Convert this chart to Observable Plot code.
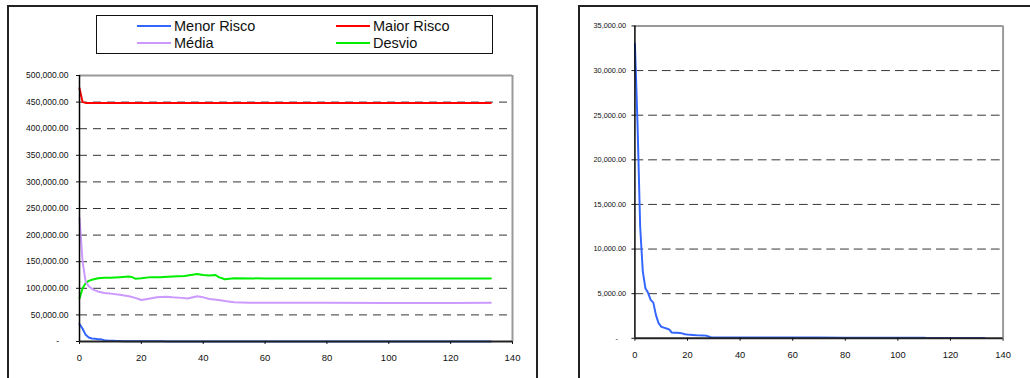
<!DOCTYPE html>
<html><head><meta charset="utf-8">
<script src="https://cdn.jsdelivr.net/npm/d3@7"></script>
<script src="https://cdn.jsdelivr.net/npm/@observablehq/plot@0.6"></script>
<style>
html,body{margin:0;padding:0;background:#fff;width:1030px;height:378px;overflow:hidden;font-family:"Liberation Sans",Arial,sans-serif;}
.panel{position:absolute;border:2px solid #222;box-sizing:border-box;background:#fff;}
#p1{left:7px;top:5px;width:531px;height:420px;}
#p2{left:578px;top:5px;width:500px;height:420px;}
.chart{position:absolute;}
#legend{position:absolute;left:96px;top:15px;width:397px;height:39px;border:1px solid #111;box-sizing:border-box;background:#fff;}
.sw{position:absolute;height:2px;}
.lt{position:absolute;font-size:14.5px;color:#111;line-height:1;white-space:nowrap;}
</style>
</head><body>
<div class="panel" id="p1"></div>
<div class="panel" id="p2"></div>
<div id="legend"></div>
<div class="chart" id="c1"></div>
<div class="chart" id="c2"></div>
<script>
// ---- data ----
const seriesNames = ["Menor Risco", "Maior Risco", "Média", "Desvio"];
const seriesColors = ["#3366ff", "#ff0000", "#cc99ff", "#00ee00"];

const menorIter = [0,1,2,3,4,5,6,7,8,9,10,11,12,13,14,15,16,17,18,19,20,22,24,26,27,28,29,30,40,50,60,70,80,90,100,110,111,120,133];
const menorRisco = [33000,24000,12500,7500,5600,5100,4300,4000,2600,1700,1300,1200,1100,1000,650,620,620,600,550,450,420,380,330,320,300,200,100,80,80,80,80,80,70,70,70,70,50,50,50];

const maiorIter = [0,1,2,5,10,20,40,60,80,100,120,133];
const maiorRisco = [476000,450000,448500,448500,448500,448500,448500,448500,448500,448500,448500,448500];

const mediaIter = [0,1,2,3,4,5,6,8,10,13,16,18,20,22,25,28,30,33,35,38,40,42,45,47,50,55,60,80,100,120,133];
const media = [232000,150000,112000,104000,99000,96000,94000,91000,90000,88000,85000,82000,78000,80000,83000,84000,83000,82000,81000,85000,83000,80000,78000,76000,74000,73000,73000,73000,72500,72500,73000];

const desvioIter = [0,1,2,3,4,6,8,10,13,16,17,18,20,23,26,30,34,38,40,42,44,45,47,50,60,80,100,120,133];
const desvio = [81000,100000,110000,114000,116000,119000,120000,120000,121000,122000,121000,118000,119000,121000,121000,122000,123000,127000,125000,124000,125000,121000,117000,119000,118500,118500,118500,118500,118500];

const xTicks = [0,20,40,60,80,100,120,140];
const yTicksLeft = [0,50000,100000,150000,200000,250000,300000,350000,400000,450000,500000];
const yTicksRight = [0,5000,10000,15000,20000,25000,30000,35000];

// ---- helpers ----
const toRows = (xs, vs) => xs.map((x, k) => ({i: x, v: vs[k]}));
const fmt = d => d === 0 ? "-\u00a0\u00a0\u00a0\u00a0" : d3.format(",.2f")(d);
const FONT = '"Liberation Sans", Arial, sans-serif';

function chart({width, height, mL, mR, mT, mB, yMax, yTicks, yFont, yPad, dash, lines}) {
  return Plot.plot({
    width, height,
    marginLeft: mL, marginRight: mR, marginTop: mT, marginBottom: mB,
    style: {background: "none", fontFamily: FONT, color: "#111"},
    x: {domain: [0, 140]},
    y: {domain: [0, yMax]},
    marks: [
      Plot.ruleY(yTicks.filter(t => t > 0 && t < yMax), {stroke: "#333", strokeWidth: 1, strokeDasharray: dash}),
      Plot.ruleY([yMax], {stroke: "#999", strokeWidth: 2}),
      Plot.ruleX([140], {stroke: "#999", strokeWidth: 2}),
      ...lines.map(l => Plot.line(l.data, {x: "i", y: "v", stroke: l.color, strokeWidth: 2, curve: "linear"})),
      Plot.ruleX([0], {stroke: "#000", strokeWidth: 1.5}),
      Plot.ruleY([0], {stroke: "#222", strokeWidth: 2}),
      Plot.axisY({ticks: yTicks, tickSize: 3, tickPadding: yPad, tickFormat: fmt, fontSize: yFont, label: null}),
      Plot.axisX({ticks: xTicks, tickSize: 3, tickPadding: 10, fontSize: 9.5, label: null})
    ]
  });
}

const left = chart({
  width: 540, height: 311, mL: 79, mR: 28, mT: 15, mB: 30,
  yMax: 500000, yTicks: yTicksLeft, yFont: 8.5, yPad: 8, dash: "8,6",
  lines: [
    {data: toRows(desvioIter, desvio), color: seriesColors[3]},
    {data: toRows(mediaIter, media), color: seriesColors[2]},
    {data: toRows(maiorIter, maiorRisco), color: seriesColors[1]},
    {data: toRows(menorIter, menorRisco), color: seriesColors[0]}
  ]
});
const c1 = document.getElementById("c1");
c1.style.left = "0px"; c1.style.top = "60px";
c1.appendChild(left);

const right = chart({
  width: 480, height: 375, mL: 76, mR: 28, mT: 26, mB: 30,
  yMax: 35000, yTicks: yTicksRight, yFont: 7.5, yPad: 6, dash: "9,5",
  lines: [
    {data: toRows(menorIter, menorRisco), color: seriesColors[0]}
  ]
});
const c2 = document.getElementById("c2");
c2.style.left = "560px"; c2.style.top = "0px";
c2.appendChild(right);

// ---- legend ----
const legend = document.getElementById("legend");
const pos = [[40, 9], [239, 9], [40, 26], [239, 26]];
seriesNames.forEach((name, k) => {
  const [x, y] = pos[k];
  const sw = document.createElement("div");
  sw.className = "sw";
  sw.style.left = x + "px"; sw.style.top = y + "px"; sw.style.width = "34px";
  sw.style.background = seriesColors[k];
  legend.appendChild(sw);
  const t = document.createElement("div");
  t.className = "lt";
  t.style.left = (x + 37) + "px"; t.style.top = (y - 6) + "px";
  t.textContent = name;
  legend.appendChild(t);
});
</script>
</body></html>
